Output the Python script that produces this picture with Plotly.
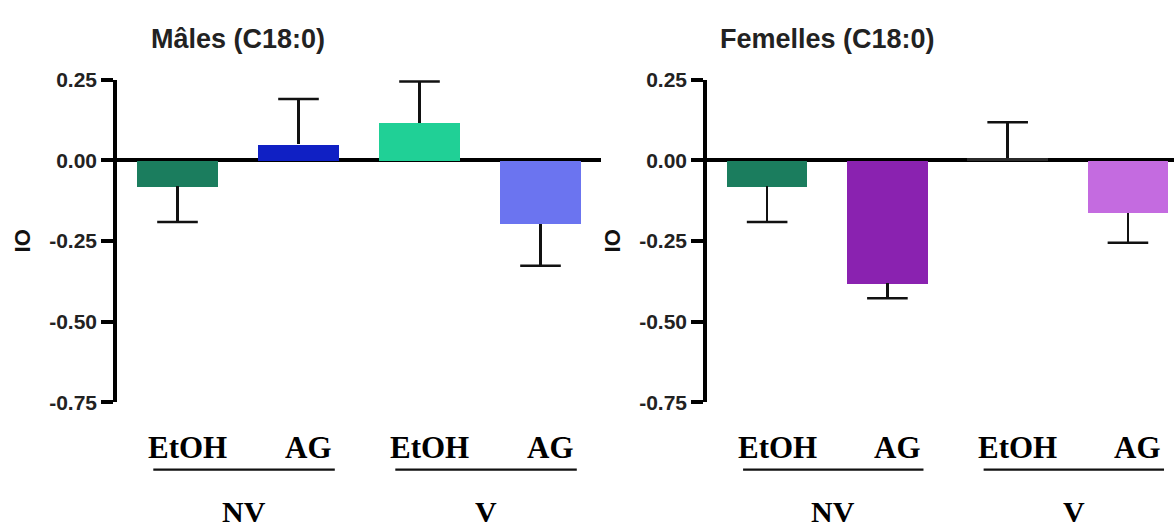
import plotly.graph_objects as go

# data
categories = ["EtOH", "AG", "EtOH", "AG"]
groups = ["NV", "V"]
group_members = [[0, 1], [2, 3]]

males_values = [-0.081, 0.05, 0.116, -0.197]
males_errors = [0.11, 0.14, 0.128, 0.13]
males_colors = ["#1b7d5e", "#1020c4", "#20d096", "#6b74f0"]

females_values = [-0.081, -0.381, 0.008, -0.163]
females_errors = [0.11, 0.047, 0.11, 0.093]
females_colors = ["#1b7d5e", "#8a22b0", "#2b2b2b", "#c46be0"]

panel_titles = ["Mâles (C18:0)", "Femelles (C18:0)"]
y_ticks = [0.25, 0.0, -0.25, -0.5, -0.75]
y_ticktext = ["0.25", "0.00", "-0.25", "-0.50", "-0.75"]

SANS = "Liberation Sans, Arial, sans-serif"
SERIF = "Liberation Serif, Times New Roman, serif"

W, H = 1174, 544
# vertical correction measured from an earlier render
VS, VO = 0.953, 12.7


def px(x):
    return x / W


def py(y):
    return 1 - ((y - VO) / VS) / H


fig = go.Figure()

panels = [
    (males_values, males_errors, males_colors, "x", "y"),
    (females_values, females_errors, females_colors, "x2", "y2"),
]

xpos = list(range(len(categories)))

for vals, errs, cols, xa, ya in panels:
    up = [e if v > 0 else 0 for v, e in zip(vals, errs)]
    down = [e if v < 0 else 0 for v, e in zip(vals, errs)]
    tips = [v + e if v > 0 else v - e for v, e in zip(vals, errs)]
    fig.add_trace(go.Bar(
        x=xpos, y=vals, width=0.67,
        marker=dict(color=cols, line=dict(width=0)),
        error_y=dict(type="data", symmetric=False, array=up, arrayminus=down,
                     color="#111", thickness=2.5, width=0),
        xaxis=xa, yaxis=ya, showlegend=False,
    ))
    # caps of the error bars
    fig.add_trace(go.Scatter(
        x=xpos, y=tips, mode="markers",
        marker=dict(symbol="line-ew", size=29, line=dict(width=2.5, color="#111")),
        xaxis=xa, yaxis=ya, showlegend=False, hoverinfo="skip",
    ))

yax = dict(
    range=[-0.75, 0.25], tickvals=y_ticks, ticktext=y_ticktext,
    showline=True, linecolor="black", linewidth=3.5,
    ticks="outside", ticklen=12, tickwidth=3.5, tickcolor="black",
    showgrid=False, zeroline=True, zerolinecolor="black", zerolinewidth=3.5,
    tickfont=dict(family=SANS, size=21, color="#222", weight="bold"),
    domain=[py(401), py(80)],
)

fig.update_layout(
    width=W, height=H,
    margin=dict(l=0, r=0, t=0, b=0),
    paper_bgcolor="white", plot_bgcolor="white",
    bargap=0,
    xaxis=dict(domain=[px(117), px(601)], range=[-0.5, 3.5], visible=False),
    xaxis2=dict(domain=[px(707), 1.0], range=[-0.5, 3.383], visible=False),
    yaxis=dict(yax, anchor="x"),
    yaxis2=dict(yax, anchor="x2"),
)

annotations = []
shapes = []
for i, (xa, title) in enumerate(zip(["x", "x2"], panel_titles)):
    annotations.append(dict(
        x=0.5, xref=xa, y=py(40), yref="paper", text=title, showarrow=False,
        font=dict(family=SANS, size=27, color="#222", weight="bold"),
        xanchor="center", yanchor="middle",
    ))
    # y axis title
    annotations.append(dict(
        x=px(22 + 590 * i), xref="paper", y=py(241), yref="paper",
        text="IO", textangle=-90, showarrow=False,
        font=dict(family=SANS, size=22, color="#111", weight="bold"),
        xanchor="center", yanchor="middle",
    ))
    for k, cat in enumerate(categories):
        annotations.append(dict(
            x=xpos[k], xref=xa, xshift=10, y=py(446), yref="paper", text=cat,
            showarrow=False, font=dict(family=SERIF, size=31, color="black", weight="bold"),
            xanchor="center", yanchor="middle",
        ))
    for g, members in zip(groups, group_members):
        x0 = xpos[members[0]] - 0.2
        x1 = xpos[members[-1]] + 0.3
        shapes.append(dict(type="line", xref=xa, yref="paper", x0=x0, x1=x1,
                           y0=py(468), y1=py(468), line=dict(color="#111", width=2.3)))
        annotations.append(dict(
            x=(x0 + x1) / 2, xref=xa, y=py(510), yref="paper", text=g,
            showarrow=False, font=dict(family=SERIF, size=30, color="black", weight="bold"),
            xanchor="center", yanchor="middle",
        ))

fig.update_layout(annotations=annotations, shapes=shapes)

fig.write_html("out.html", config={"displayModeBar": False},
               post_script="document.body.style.margin='0';")
